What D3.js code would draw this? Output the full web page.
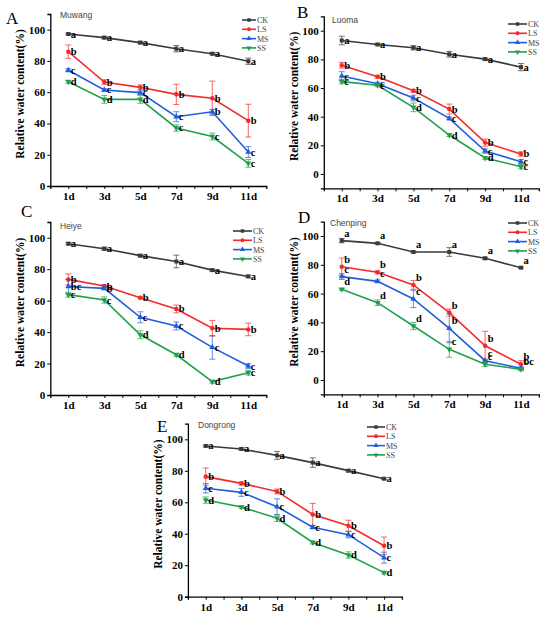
<!DOCTYPE html>
<html>
<head>
<meta charset="utf-8">
<script src="https://cdn.jsdelivr.net/npm/d3@7"></script>
<style>
  body { margin: 0; background: #fff; }
  svg { display: block; }
</style>
</head>
<body>
<script>
const width = 550;
const height = 621;

// data
const days = [1, 3, 5, 7, 9, 11];
const dayLabels = ["1d", "3d", "5d", "7d", "9d", "11d"];
const treatments = ["CK", "LS", "MS", "SS"];
const cultivars = ["Muwang", "Luoma", "Heiye", "Chenping", "Dongrong"];
const panelLetters = ["A", "B", "C", "D", "E"];

// rows = CK, LS, MS, SS
const muwangValues = [
  [97.2, 94.9, 91.7, 87.8, 84.6, 79.8],
  [85.9, 66.5, 63.1, 58.6, 56.1, 41.8],
  [74.0, 61.4, 59.7, 44.3, 47.5, 21.7],
  [66.7, 55.4, 55.4, 37.1, 31.6, 14.5]
];
const muwangErrors = [
  [0.6, 0.8, 0.8, 2.0, 0.8, 2.0],
  [4.3, 1.5, 1.5, 6.5, 11.0, 10.5],
  [1.0, 1.0, 1.0, 3.2, 1.5, 3.5],
  [1.0, 2.5, 2.5, 2.0, 2.2, 2.5]
];
const muwangLetters = [
  ["a", "a", "a", "a", "a", "a"],
  ["b", "b", "b", "b", "b", "b"],
  ["c", "c", "c", "c", "b", "c"],
  ["d", "d", "d", "c", "c", "c"]
];

const luomaValues = [
  [93.2, 90.4, 88.1, 83.6, 80.2, 74.6],
  [75.9, 67.9, 58.1, 45.3, 21.9, 14.0],
  [68.4, 63.0, 53.0, 38.8, 16.0, 8.6],
  [64.5, 61.9, 46.5, 27.2, 11.2, 5.1]
];
const luomaErrors = [
  [3.0, 0.8, 1.5, 2.0, 0.8, 2.5],
  [2.0, 1.0, 1.0, 3.5, 2.5, 1.5],
  [3.0, 1.0, 2.0, 1.0, 1.5, 1.5],
  [1.5, 1.0, 3.0, 1.0, 1.0, 1.5]
];
const luomaLetters = [
  ["a", "a", "a", "a", "a", "a"],
  ["b", "b", "b", "b", "b", "b"],
  ["c", "c", "c", "c", "c", "c"],
  ["c", "c", "d", "d", "d", "c"]
];

const heiyeValues = [
  [96.2, 93.0, 88.6, 84.9, 79.4, 75.4],
  [73.5, 69.3, 61.9, 54.7, 42.4, 41.7],
  [69.0, 67.8, 49.4, 43.9, 30.3, 18.4],
  [63.8, 60.4, 38.3, 25.6, 8.5, 14.2]
];
const heiyeErrors = [
  [0.8, 1.0, 0.8, 4.0, 0.8, 0.8],
  [3.5, 1.0, 0.8, 2.5, 5.0, 4.0],
  [4.5, 1.0, 3.5, 2.5, 7.5, 1.5],
  [1.5, 2.0, 2.5, 1.0, 1.0, 1.5]
];
const heiyeLetters = [
  ["a", "a", "a", "a", "a", "a"],
  ["b", "b", "b", "b", "b", "b"],
  ["bc", "b", "c", "c", "c", "c"],
  ["c", "c", "d", "d", "d", "c"]
];

const chenpingValues = [
  [96.8, 94.9, 88.9, 88.9, 84.5, 78.0],
  [78.7, 74.8, 66.0, 46.8, 23.8, 10.9],
  [71.8, 68.5, 56.3, 35.9, 13.4, 8.1],
  [63.0, 53.7, 37.5, 21.3, 10.9, 7.4]
];
const chenpingErrors = [
  [1.5, 0.6, 0.6, 3.0, 0.8, 0.6],
  [6.0, 1.0, 3.0, 2.5, 10.0, 2.5],
  [2.0, 1.0, 6.0, 10.0, 1.0, 1.0],
  [0.6, 2.0, 2.5, 5.5, 1.5, 1.0]
];
const chenpingLetters = [
  ["a", "a", "a", "a", "a", "a"],
  ["b", "b", "b", "b", "b", "b"],
  ["c", "c", "c", "b", "c", "c"],
  ["d", "d", "d", "c", "c", "bc"]
];

const dongrongValues = [
  [95.8, 93.9, 89.8, 85.2, 80.1, 75.0],
  [76.3, 72.0, 66.9, 52.3, 45.1, 32.4],
  [68.9, 66.3, 57.2, 44.1, 39.4, 24.8],
  [61.4, 57.0, 49.8, 34.5, 26.5, 15.3]
];
const dongrongErrors = [
  [0.6, 0.8, 2.5, 3.0, 0.8, 0.6],
  [5.5, 1.0, 1.5, 7.0, 3.5, 5.5],
  [3.0, 2.5, 5.0, 1.0, 2.0, 3.5],
  [2.0, 0.8, 2.0, 1.0, 2.0, 0.8]
];
const dongrongLetters = [
  ["a", "a", "a", "a", "a", "a"],
  ["b", "b", "b", "b", "b", "b"],
  ["c", "c", "c", "c", "c", "c"],
  ["d", "d", "d", "d", "d", "d"]
];

const colors = ["#3a3a3a", "#f42a2a", "#1f5ee0", "#21a04a"];
const symbols = [d3.symbolSquare, d3.symbolCircle, d3.symbolTriangle, "down"];

// panel layout (pixel boxes of each plot area)
const panels = [
  { values: muwangValues, errors: muwangErrors, letters: muwangLetters,
    x0: 50.3, x1: 266.3, yTop: 14, yZero: 186, yMin: 0, lbl: "right",
    letterPos: [6, 24], namePos: [60, 18], legend: [242, 20, 14] },
  { values: luomaValues, errors: luomaErrors, letters: luomaLetters,
    x0: 323.8, x1: 538.9, yTop: 16.4, yZero: 174, yMin: -10, lbl: "right",
    letterPos: [297, 18], namePos: [332, 23], legend: [508, 24, 19] },
  { values: heiyeValues, errors: heiyeErrors, letters: heiyeLetters,
    x0: 50.3, x1: 266.3, yTop: 222, yZero: 395, yMin: 0, lbl: "right",
    letterPos: [21, 217], namePos: [60, 229], legend: [233, 231, 19] },
  { values: chenpingValues, errors: chenpingErrors, letters: chenpingLetters,
    x0: 323.8, x1: 538.9, yTop: 221.6, yZero: 380, yMin: -10, lbl: "above",
    letterPos: [298, 223], namePos: [330, 226], legend: [508, 223, 19] },
  { values: dongrongValues, errors: dongrongErrors, letters: dongrongLetters,
    x0: 187.9, x1: 401.9, yTop: 423.6, yZero: 596.7, yMin: 0, lbl: "right",
    letterPos: [157, 432], namePos: [198, 428], legend: [367, 427, 18] }
];

const svg = d3.select("body")
  .append("svg")
  .attr("width", width)
  .attr("height", height);

function marker(i, size) {
  if (symbols[i] === "down") {
    return d3.symbol().type(d3.symbolTriangle).size(size)();
  }
  return d3.symbol().type(symbols[i]).size(size)();
}

panels.forEach(function (p, pi) {
  const g = svg.append("g");

  const x = d3.scaleLinear().domain([0, 12]).range([p.x0, p.x1]);
  const yUnit = (p.yZero - p.yTop) / 110;
  const y = d3.scaleLinear()
    .domain([p.yMin, 110])
    .range([p.yZero - p.yMin * yUnit, p.yTop]);

  // axes
  const xAxis = d3.axisBottom(x)
    .tickValues(d3.range(1, 12))
    .tickSize(3)
    .tickFormat(d => (d % 2 === 1 ? dayLabels[(d - 1) / 2] : ""));
  const xg = g.append("g")
    .attr("transform", `translate(0,${y(p.yMin)})`)
    .call(xAxis);
  xg.select(".domain").attr("stroke", "#000").attr("stroke-width", 1.3);
  xg.selectAll(".tick line").attr("stroke-width", 1);
  xg.selectAll("text")
    .attr("dy", null)
    .attr("y", 14)
    .attr("font-family", "Liberation Serif, Times New Roman, serif")
    .attr("font-weight", "bold")
    .attr("font-size", 11)
    .attr("fill", "#000");

  const yAxis = d3.axisLeft(y)
    .tickValues([0, 20, 40, 60, 80, 100])
    .tickSize(3)
    .tickPadding(2);
  const yg = g.append("g")
    .attr("transform", `translate(${p.x0},0)`)
    .call(yAxis);
  yg.select(".domain").attr("stroke", "#000").attr("stroke-width", 1.3);
  yg.selectAll("text")
    .attr("font-family", "Liberation Serif, Times New Roman, serif")
    .attr("font-weight", "bold")
    .attr("font-size", 11)
    .attr("fill", "#000");

  // axis title
  const midY = (y(110) + y(p.yMin)) / 2 - 6;
  g.append("text")
    .attr("transform", `translate(${p.x0 - 26},${midY}) rotate(-90)`)
    .attr("text-anchor", "middle")
    .attr("font-family", "Liberation Serif, Times New Roman, serif")
    .attr("font-weight", "bold")
    .attr("font-size", 11.5)
    .text("Relative water content(%)");

  // panel letter + cultivar name
  g.append("text")
    .attr("x", p.letterPos[0])
    .attr("y", p.letterPos[1])
    .attr("font-family", "Liberation Serif, Times New Roman, serif")
    .attr("font-size", 17)
    .text(panelLetters[pi]);
  g.append("text")
    .attr("x", p.namePos[0])
    .attr("y", p.namePos[1])
    .attr("font-family", "Liberation Sans, Arial, sans-serif")
    .attr("font-size", 8.5)
    .attr("fill", "#444")
    .text(cultivars[pi]);

  const line = d3.line()
    .x((d, i) => x(days[i]))
    .y(d => y(d));

  p.values.forEach(function (vals, si) {
    const col = colors[si];
    const sg = g.append("g");

    // error bars
    vals.forEach(function (v, i) {
      const e = p.errors[si][i];
      const cx = x(days[i]);
      sg.append("line")
        .attr("x1", cx).attr("x2", cx)
        .attr("y1", y(v - e)).attr("y2", y(v + e))
        .attr("stroke", col).attr("stroke-opacity", 0.7).attr("stroke-width", 1);
      [v - e, v + e].forEach(function (ev) {
        sg.append("line")
          .attr("x1", cx - 3).attr("x2", cx + 3)
          .attr("y1", y(ev)).attr("y2", y(ev))
          .attr("stroke", col).attr("stroke-opacity", 0.7).attr("stroke-width", 1);
      });
    });

    sg.append("path")
      .datum(vals)
      .attr("d", line)
      .attr("fill", "none")
      .attr("stroke", col)
      .attr("stroke-width", 1.6);

    sg.selectAll("path.mk")
      .data(vals)
      .join("path")
      .attr("class", "mk")
      .attr("d", marker(si, 16))
      .attr("transform", (d, i) => `translate(${x(days[i])},${y(d)})` + (symbols[si] === "down" ? " rotate(180)" : ""))
      .attr("fill", col);
  });

  // significance letters
  p.values.forEach(function (vals, si) {
    g.append("g")
      .selectAll("text")
      .data(vals)
      .join("text")
      .attr("x", (d, i) => x(days[i]) + 2.5)
      .attr("y", d => y(d) + (p.lbl === "above" ? -4 : 3.5))
      .attr("font-family", "Liberation Serif, Times New Roman, serif")
      .attr("font-weight", "bold")
      .attr("font-size", 10.5)
      .attr("fill", "#000")
      .text((d, i) => p.letters[si][i]);
  });

  // legend
  const [lx, ly, len] = p.legend;
  treatments.forEach(function (t, si) {
    const yy = ly + si * 9.3;
    g.append("line")
      .attr("x1", lx).attr("x2", lx + len)
      .attr("y1", yy).attr("y2", yy)
      .attr("stroke", colors[si]).attr("stroke-width", 1.6);
    g.append("path")
      .attr("d", marker(si, 12))
      .attr("transform", `translate(${lx + len / 2},${yy})` + (symbols[si] === "down" ? " rotate(180)" : ""))
      .attr("fill", colors[si]);
    g.append("text")
      .attr("x", lx + len + 1)
      .attr("y", yy + 3)
      .attr("font-family", "Liberation Serif, Times New Roman, serif")
      .attr("font-size", 8)
      .attr("fill", "#444")
      .text(t);
  });
});
</script>
</body>
</html>
